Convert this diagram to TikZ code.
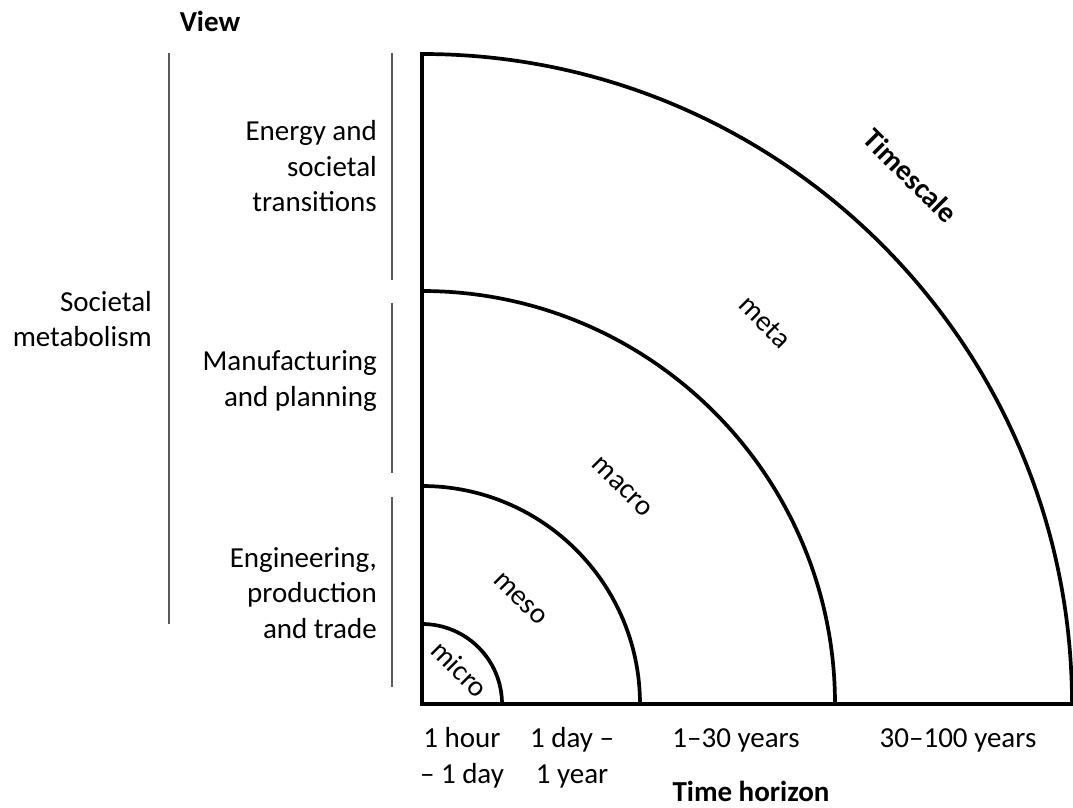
\documentclass[tikz,border=0pt]{standalone}
\usepackage{fontspec}
\setmainfont{Carlito}
\usetikzlibrary{calc}
\begin{document}
\begin{tikzpicture}[x=1pt,y=1pt,
  lbl/.style={font=\fontsize{29}{35.5}\selectfont, inner sep=0pt},
  head/.style={font=\fontsize{29}{35.5}\selectfont\bfseries, inner sep=0pt},
  ring/.style={line width=3.7pt, line join=miter},
  bracket/.style={line width=1.4pt, draw=black!65},
  ringlbl/.style={lbl, rotate=-45}
]
\useasboundingbox (0,0) rectangle (1073,807);

% corner of the quadrant
\coordinate (O) at (422,103);

% outer quadrant: axes and the meta arc
\draw[ring] (O) -- ++(650,0) coordinate (xend)
  arc[start angle=0, end angle=90, radius=650pt] coordinate (ytop) -- cycle;
% inner arcs
\draw[ring] ($(O)+(413,0)$) arc[start angle=0, end angle=90, radius=413pt];
\draw[ring] ($(O)+(218,0)$) arc[start angle=0, end angle=90, radius=218pt];
\draw[ring] ($(O)+(80,0)$) arc[start angle=0, end angle=90, radius=80pt];

% view brackets
\coordinate (s1) at (169,754); \coordinate (s2) at (169,183);
\draw[bracket] (s1) -- (s2);
\coordinate (e1) at (392,754); \coordinate (e2) at (392,527);
\coordinate (m1) at (392,504); \coordinate (m2) at (392,334);
\coordinate (g1) at (392,310); \coordinate (g2) at (392,120);
\draw[bracket] (e1) -- (e2);
\draw[bracket] (m1) -- (m2);
\draw[bracket] (g1) -- (g2);

% headings
\node[head, anchor=base] (view) at (210,775) {View};
\node[head, anchor=base] (horizon) at (751,6) {Time horizon};
\node[head, rotate=-45] (timescale) at (911,631) {Timescale};

% view labels (anchored at the baseline of their last line)
\node[lbl, anchor=base east, align=right] (societal) at (152,460) {Societal\\metabolism};
\node[lbl, anchor=base east, align=right] (energy) at (377,595) {Energy and\\societal\\transitions};
\node[lbl, anchor=base east, align=right] (manuf) at (377,401) {Manufacturing\\and planning};
\node[lbl, anchor=base east, align=right] (engin) at (377,169) {Engineering,\\production\\and trade};

% ring labels
\node[ringlbl] (micro) at (460,138) {micro};
\node[ringlbl] (meso) at (520,208) {meso};
\node[ringlbl] (macro) at (622,320) {macro};
\node[ringlbl] (meta) at (765,485) {meta};

% time horizon labels
\node[lbl, anchor=base, align=center] (t1) at (462,24) {1 hour\\– 1 day};
\node[lbl, anchor=base, align=center] (t2) at (572,24) {1 day –\\1 year};
\node[lbl, anchor=base] (t3) at (736,60) {1–30 years};
\node[lbl, anchor=base] (t4) at (958,60) {30–100 years};
\end{tikzpicture}
\end{document}
